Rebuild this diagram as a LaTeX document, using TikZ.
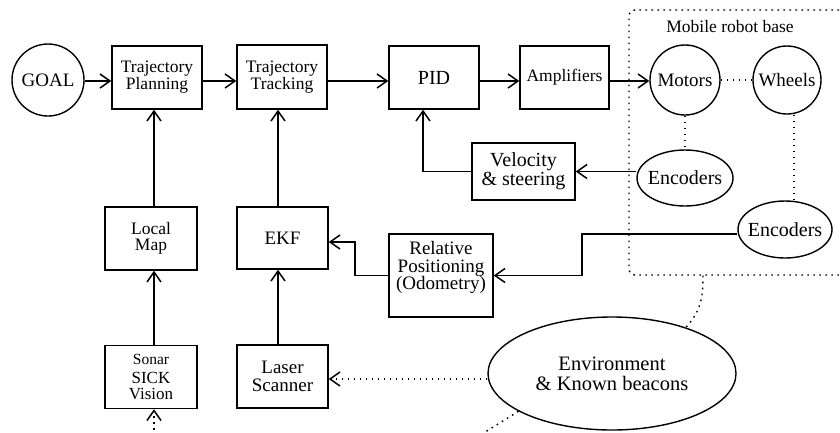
\documentclass[tikz,border=0pt]{standalone}
\usepackage{fontspec}
\setmainfont{Liberation Serif}
\usetikzlibrary{arrows.meta,shapes.geometric}
\newcommand\tsz[2]{\fontsize{#1}{#2}\selectfont}
\begin{document}
\begin{tikzpicture}[x=1pt,y=-1pt,
  lw/.style={line width=1.4pt},
  blk/.style={draw,lw,rectangle,inner sep=0pt,align=center,font=\tsz{17.5}{15}},
  rnd/.style={draw,lw,circle,inner sep=0pt,align=center,font=\tsz{19}{19}},
  ova/.style={draw,lw,ellipse,inner sep=0pt,align=center,font=\tsz{20}{20}},
  arr/.style={lw,-{Straight Barb[length=10pt,width=14pt,line width=1.5pt]}},
  dotl/.style={lw,dash pattern=on 1.6pt off 4.4pt},
  darr/.style={dotl,-{Straight Barb[length=10pt,width=14pt,line width=1.5pt]}}]
\clip (0,0) rectangle (840,432);

% helper coordinates for routing
\coordinate (rowA) at (0,81);
\coordinate (kA) at (154,0);
\coordinate (kB) at (278,0);
\coordinate (kP) at (423,0);
\coordinate (kR) at (582,234);
\coordinate (kE) at (355,242);
\coordinate (kL) at (0,379);
\coordinate (kW) at (794,0);
\coordinate (kC) at (703,0);
\coordinate (kS) at (154,436);
\coordinate (kF) at (482,434);

% robot base frame
\node[draw,dotl,rounded corners=6pt,minimum width=216pt,minimum height=265pt,inner sep=0pt] (base) at (737,142.5) {};
\node[font=\tsz{17.5}{17.5}] (baselbl) at (730,27) {Mobile robot base};

% blocks
\node[rnd,minimum size=72pt] (goal) at (48,80) {GOAL};
\node[blk,minimum width=90pt,minimum height=63pt] (tp) at (157,77.5) {Trajectory\\Planning};
\node[blk,minimum width=90pt,minimum height=64pt] (tt) at (282,77) {Trajectory\\Tracking};
\node[blk,minimum width=90pt,minimum height=63pt,font=\tsz{20}{20}] (pid) at (434,77.5) {PID};
\node[blk,minimum width=89pt,minimum height=63pt] (amp) at (564.5,77.5) {Amplifiers};
\node[rnd,minimum size=70pt] (motors) at (685,80) {Motors};
\node[rnd,minimum size=68pt] (wheels) at (787,80) {Wheels};
\node[ova,minimum width=96pt,minimum height=56pt] (enc1) at (685,178) {\makebox[0pt]{Encoders}};
\node[ova,minimum width=94pt,minimum height=57pt] (enc2) at (785,229.5) {\makebox[0pt]{Encoders}};
\node[blk,minimum width=103pt,minimum height=57pt,font=\tsz{20}{17}] (vel) at (523.5,171.5) {Velocity\\\& steering};
\node[blk,minimum width=104pt,minimum height=83pt,font=\tsz{19}{17.5}] (rp) at (441,275.5) {Relative\\Positioning\\(Odometry)\\[2pt]};
\node[blk,minimum width=91pt,minimum height=62pt,font=\tsz{19}{19}] (ekf) at (282.5,238) {EKF};
\node[blk,minimum width=92pt,minimum height=63pt,font=\tsz{17.5}{16.5}] (lmap) at (151,238.5) {Local\\Map};
\node[blk,minimum width=92pt,minimum height=63pt,font=\tsz{17}{16.5}] (sonar) at (151,377) {{\tsz{15.5}{15.5}Sonar}\\[2pt]SICK\\Vision};
\node[blk,minimum width=91pt,minimum height=63pt,font=\tsz{19}{17.5}] (laser) at (282.5,376.5) {Laser\\Scanner};
\node[ova,minimum width=248pt,minimum height=113pt,font=\tsz{20.5}{20}] (env) at (612,373.5) {Environment\\\& Known beacons};

% forward chain
\draw[arr] (goal.east |- rowA) -- (tp.west |- rowA);
\draw[arr] (tp.east |- rowA) -- (tt.west |- rowA);
\draw[arr] (tt.east |- rowA) -- (pid.west |- rowA);
\draw[arr] (pid.east |- rowA) -- (amp.west |- rowA);
\draw[arr] (amp.east |- rowA) -- (motors.west |- rowA);

% inside the robot base
\draw[dotl] (motors) -- (wheels);
\draw[dotl] (motors) -- (enc1);
\draw[dotl] (wheels.south -| kW) -- (enc2.north -| kW);

% feedback paths
\draw[arr] (enc1.west |- vel.east) -- (vel.east);
\draw[arr] (vel.west) -| (pid.south -| kP);
\draw[arr] (enc2.west |- kR) -- (kR) |- (rp.east);
\draw[arr] (rp.west) -| (kE) -- (kE -| ekf.east);

% sensing columns
\draw[arr] (lmap.north -| kA) -- (tp.south -| kA);
\draw[arr] (sonar.north -| kA) -- (lmap.south -| kA);
\draw[arr] (ekf.north -| kB) -- (tt.south -| kB);
\draw[arr] (laser.north -| kB) -- (ekf.south -| kB);

% environment links
\draw[darr] (env.west |- kL) -- (laser.east |- kL);
\draw[darr] (kS) -- (sonar.south -| kA);
\draw[dotl] (base.south -| kC) .. controls (703,300) and (700,312) .. (env.32);
\draw[dotl] (env.202) -- (kF);
\end{tikzpicture}
\end{document}
